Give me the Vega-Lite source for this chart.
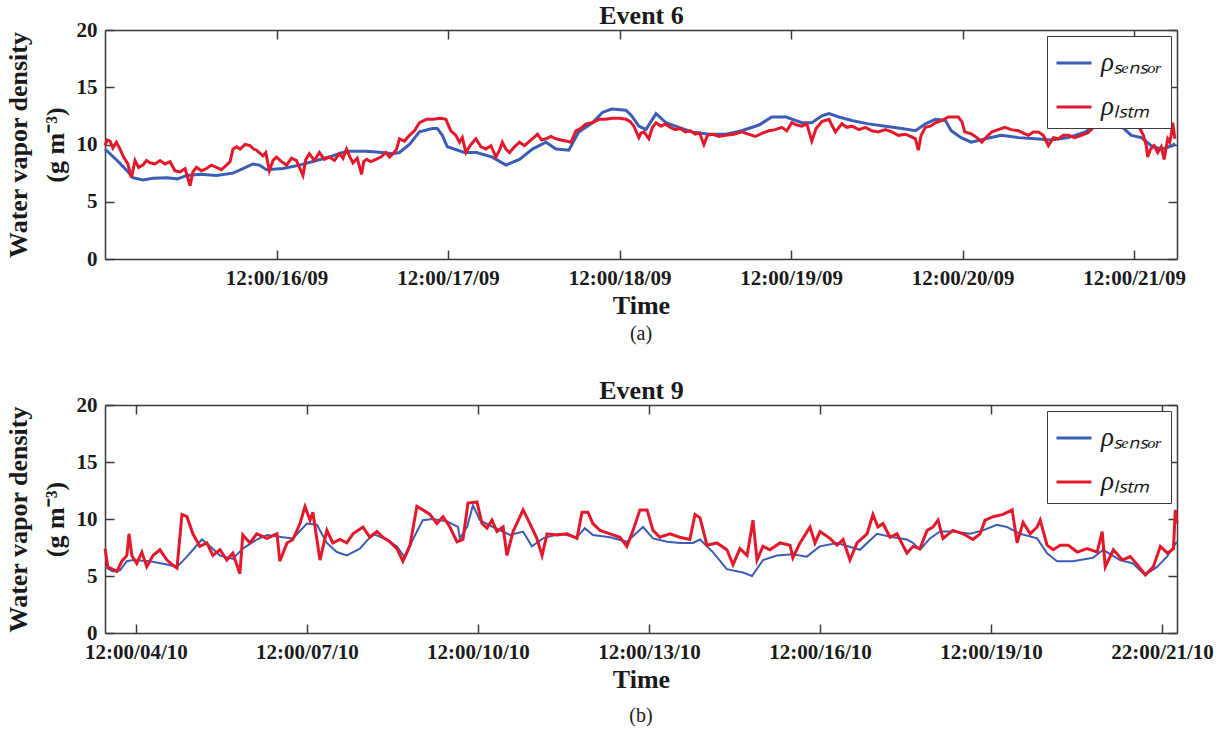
{
"$schema": "https://vega.github.io/schema/vega-lite/v6.json",
"background": "white",
"padding": {"left": 5, "top": 2, "right": 5, "bottom": 5},
"spacing": 33,
"config": {
  "font": "Liberation Serif",
  "view": {"stroke": null},
  "axis": {"grid": false, "labelFont": "Liberation Serif", "labelFontWeight": "bold", "labelFontSize": 21, "labelColor": "#1a1a1a", "titleFont": "Liberation Serif", "titleFontWeight": "bold", "titleFontSize": 26, "titleColor": "#1a1a1a", "domainColor": "#3a3a3a", "domainWidth": 1.5, "tickColor": "#3a3a3a", "tickWidth": 1.5, "tickSize": -9},
  "title": {"font": "Liberation Serif", "fontWeight": "normal", "fontSize": 20, "color": "#1a1a1a", "anchor": "middle"}
},
"datasets": {
  "e6s": [{"h":0,"v":9.6},{"h":1.7,"v":8.6},{"h":3.1,"v":7.7},{"h":3.9,"v":7.1},{"h":5.3,"v":6.9},{"h":6.7,"v":7.05},{"h":8.7,"v":7.1},{"h":10.1,"v":7.0},{"h":11.5,"v":7.3},{"h":13.3,"v":7.4},{"h":15.6,"v":7.3},{"h":17.9,"v":7.5},{"h":19.3,"v":7.9},{"h":20.7,"v":8.3},{"h":21.6,"v":8.2},{"h":22.6,"v":7.8},{"h":24.9,"v":7.9},{"h":27.2,"v":8.2},{"h":29.6,"v":8.6},{"h":31.8,"v":9.0},{"h":33.8,"v":9.4},{"h":36.6,"v":9.4},{"h":38.8,"v":9.3},{"h":40.2,"v":9.2},{"h":41.2,"v":9.3},{"h":42.6,"v":10.0},{"h":44.0,"v":11.1},{"h":45.8,"v":11.4},{"h":46.5,"v":11.4},{"h":47.2,"v":10.8},{"h":47.9,"v":9.8},{"h":50.3,"v":9.3},{"h":52.0,"v":9.3},{"h":54.2,"v":8.9},{"h":56.1,"v":8.2},{"h":58.0,"v":8.7},{"h":59.8,"v":9.6},{"h":61.7,"v":10.2},{"h":63.1,"v":9.6},{"h":64.9,"v":9.5},{"h":66.3,"v":11.1},{"h":68.2,"v":11.9},{"h":69.6,"v":12.8},{"h":70.9,"v":13.1},{"h":72.9,"v":13.0},{"h":73.7,"v":12.5},{"h":74.7,"v":11.6},{"h":75.7,"v":11.3},{"h":77.1,"v":12.7},{"h":78.5,"v":11.9},{"h":80.3,"v":11.5},{"h":82.1,"v":11.1},{"h":84.5,"v":10.9},{"h":86.9,"v":10.9},{"h":89.1,"v":11.2},{"h":91.5,"v":11.7},{"h":93.3,"v":12.4},{"h":95.3,"v":12.4},{"h":97.5,"v":11.9},{"h":98.9,"v":11.9},{"h":100.3,"v":12.5},{"h":101.3,"v":12.7},{"h":102.7,"v":12.4},{"h":104.5,"v":12.1},{"h":106.8,"v":11.8},{"h":109.2,"v":11.6},{"h":111.5,"v":11.4},{"h":113.4,"v":11.2},{"h":114.8,"v":11.8},{"h":116.2,"v":12.2},{"h":117.6,"v":12.1},{"h":118.4,"v":11.2},{"h":119.8,"v":10.6},{"h":121.2,"v":10.2},{"h":123.2,"v":10.5},{"h":125.4,"v":10.8},{"h":127.8,"v":10.6},{"h":130.2,"v":10.5},{"h":132.4,"v":10.4},{"h":134.8,"v":10.6},{"h":137.2,"v":11.1},{"h":139.4,"v":12.1},{"h":140.8,"v":11.9},{"h":142.2,"v":11.6},{"h":143.6,"v":10.8},{"h":145.0,"v":10.6},{"h":146.4,"v":9.9},{"h":147.8,"v":9.6},{"h":149.4,"v":9.9},{"h":149.7,"v":10.1}],
  "e6l": [{"h":0,"v":9.9},{"h":0.3,"v":10.4},{"h":0.7,"v":10.3},{"h":1.1,"v":9.7},{"h":1.6,"v":10.2},{"h":2.1,"v":9.6},{"h":2.6,"v":8.9},{"h":3.2,"v":8.3},{"h":3.7,"v":7.1},{"h":4.2,"v":8.6},{"h":4.7,"v":8.0},{"h":5.3,"v":8.2},{"h":5.8,"v":8.6},{"h":6.3,"v":8.4},{"h":7.0,"v":8.3},{"h":7.7,"v":8.6},{"h":8.4,"v":8.3},{"h":9.1,"v":8.5},{"h":9.8,"v":7.7},{"h":10.5,"v":7.6},{"h":11.2,"v":7.9},{"h":11.9,"v":6.4},{"h":12.3,"v":7.6},{"h":12.8,"v":8.0},{"h":13.5,"v":7.7},{"h":14.2,"v":7.9},{"h":14.9,"v":8.2},{"h":15.6,"v":8.0},{"h":16.3,"v":7.8},{"h":17.0,"v":8.2},{"h":17.5,"v":8.5},{"h":17.9,"v":9.6},{"h":18.4,"v":9.8},{"h":18.9,"v":9.6},{"h":19.6,"v":10.0},{"h":20.3,"v":9.9},{"h":20.8,"v":9.6},{"h":21.2,"v":9.5},{"h":22.1,"v":9.0},{"h":22.5,"v":9.3},{"h":23.0,"v":7.7},{"h":23.5,"v":8.6},{"h":24.0,"v":8.9},{"h":24.7,"v":8.5},{"h":25.4,"v":8.2},{"h":26.1,"v":8.8},{"h":26.8,"v":8.6},{"h":27.7,"v":7.3},{"h":28.1,"v":8.7},{"h":28.6,"v":9.2},{"h":29.3,"v":8.6},{"h":30.0,"v":9.3},{"h":30.7,"v":8.7},{"h":31.4,"v":8.9},{"h":32.1,"v":8.6},{"h":32.8,"v":9.2},{"h":33.3,"v":8.8},{"h":33.8,"v":9.6},{"h":34.2,"v":9.0},{"h":34.7,"v":8.4},{"h":35.3,"v":8.8},{"h":35.9,"v":7.4},{"h":36.2,"v":8.5},{"h":36.6,"v":8.7},{"h":37.2,"v":8.5},{"h":37.9,"v":8.7},{"h":38.6,"v":8.9},{"h":39.3,"v":9.3},{"h":39.8,"v":8.9},{"h":40.3,"v":9.2},{"h":40.8,"v":9.6},{"h":41.2,"v":10.5},{"h":41.9,"v":10.3},{"h":42.6,"v":10.8},{"h":43.3,"v":11.2},{"h":44.0,"v":11.9},{"h":45.0,"v":12.2},{"h":45.9,"v":12.2},{"h":47.0,"v":12.3},{"h":47.7,"v":12.2},{"h":48.1,"v":11.6},{"h":48.4,"v":11.2},{"h":49.1,"v":10.8},{"h":49.6,"v":10.2},{"h":50.0,"v":10.6},{"h":50.5,"v":9.3},{"h":51.2,"v":10.0},{"h":51.9,"v":10.5},{"h":52.6,"v":9.8},{"h":53.3,"v":9.6},{"h":54.0,"v":9.9},{"h":54.7,"v":8.9},{"h":55.2,"v":9.5},{"h":55.6,"v":10.2},{"h":56.1,"v":9.6},{"h":56.6,"v":9.3},{"h":57.3,"v":9.8},{"h":58.0,"v":10.2},{"h":58.7,"v":9.9},{"h":59.4,"v":10.3},{"h":60.0,"v":10.6},{"h":60.5,"v":10.9},{"h":61.1,"v":10.4},{"h":61.7,"v":10.5},{"h":62.4,"v":10.7},{"h":63.1,"v":10.5},{"h":63.8,"v":10.4},{"h":64.5,"v":10.3},{"h":65.2,"v":10.2},{"h":65.9,"v":11.2},{"h":66.6,"v":11.4},{"h":67.3,"v":11.8},{"h":68.2,"v":11.9},{"h":69.1,"v":12.2},{"h":70.0,"v":12.2},{"h":71.0,"v":12.3},{"h":72.0,"v":12.3},{"h":72.9,"v":12.2},{"h":73.5,"v":12.0},{"h":74.0,"v":11.6},{"h":74.7,"v":10.6},{"h":75.0,"v":11.0},{"h":75.4,"v":11.1},{"h":76.1,"v":10.5},{"h":76.6,"v":11.5},{"h":77.1,"v":11.9},{"h":77.8,"v":11.6},{"h":78.4,"v":11.8},{"h":79.1,"v":11.5},{"h":79.8,"v":11.3},{"h":80.5,"v":11.4},{"h":81.2,"v":11.1},{"h":81.9,"v":11.2},{"h":82.6,"v":10.9},{"h":83.2,"v":11.0},{"h":83.8,"v":10.0},{"h":84.3,"v":10.8},{"h":85.0,"v":10.9},{"h":85.9,"v":10.7},{"h":86.8,"v":10.8},{"h":88.0,"v":10.9},{"h":89.1,"v":11.1},{"h":90.0,"v":10.9},{"h":91.0,"v":10.7},{"h":92.0,"v":11.0},{"h":92.9,"v":11.2},{"h":93.8,"v":11.3},{"h":94.7,"v":11.5},{"h":95.4,"v":11.2},{"h":96.1,"v":11.9},{"h":96.8,"v":11.7},{"h":97.5,"v":11.6},{"h":98.2,"v":11.8},{"h":98.9,"v":10.3},{"h":99.5,"v":11.4},{"h":100.3,"v":12.0},{"h":101.3,"v":12.2},{"h":102.2,"v":11.1},{"h":103.1,"v":11.8},{"h":103.8,"v":11.5},{"h":104.5,"v":11.6},{"h":105.5,"v":11.3},{"h":106.4,"v":11.5},{"h":107.3,"v":11.2},{"h":108.2,"v":11.1},{"h":109.2,"v":11.3},{"h":110.1,"v":11.1},{"h":111.0,"v":10.8},{"h":112.0,"v":10.9},{"h":112.7,"v":10.7},{"h":113.4,"v":10.5},{"h":113.8,"v":9.5},{"h":114.2,"v":10.8},{"h":114.8,"v":11.5},{"h":115.5,"v":11.6},{"h":116.2,"v":11.9},{"h":117.1,"v":12.1},{"h":118.0,"v":12.4},{"h":119.4,"v":12.4},{"h":119.9,"v":12.0},{"h":120.3,"v":11.1},{"h":121.3,"v":10.9},{"h":122.0,"v":10.6},{"h":122.7,"v":10.2},{"h":123.4,"v":10.7},{"h":124.1,"v":11.1},{"h":125.0,"v":11.3},{"h":125.9,"v":11.5},{"h":126.8,"v":11.3},{"h":127.8,"v":11.2},{"h":128.5,"v":11.0},{"h":129.2,"v":10.8},{"h":129.9,"v":11.1},{"h":130.6,"v":11.1},{"h":131.3,"v":10.8},{"h":132.0,"v":9.9},{"h":132.7,"v":10.6},{"h":133.4,"v":10.5},{"h":134.1,"v":10.8},{"h":134.8,"v":10.8},{"h":135.7,"v":10.6},{"h":136.6,"v":10.8},{"h":137.5,"v":11.0},{"h":138.5,"v":11.6},{"h":139.4,"v":11.9},{"h":140.4,"v":12.2},{"h":141.3,"v":12.3},{"h":142.2,"v":12.2},{"h":143.6,"v":12.1},{"h":144.3,"v":11.8},{"h":144.8,"v":11.4},{"h":145.3,"v":10.8},{"h":145.7,"v":9.9},{"h":145.9,"v":8.9},{"h":146.3,"v":9.6},{"h":146.8,"v":9.9},{"h":147.3,"v":9.3},{"h":147.8,"v":9.8},{"h":148.2,"v":8.7},{"h":148.7,"v":10.5},{"h":149.0,"v":10.2},{"h":149.2,"v":10.9},{"h":149.4,"v":11.9},{"h":149.7,"v":10.5}],
  "e9s": [{"h":-13,"v":5.8},{"h":-9.7,"v":5.4},{"h":-6.7,"v":5.5},{"h":-3.8,"v":6.3},{"h":-1.3,"v":6.4},{"h":5.9,"v":6.3},{"h":13.1,"v":6.0},{"h":17.3,"v":5.8},{"h":21.5,"v":6.7},{"h":25.7,"v":7.7},{"h":27.8,"v":8.2},{"h":31.2,"v":7.6},{"h":35.4,"v":6.8},{"h":40.8,"v":6.5},{"h":45.0,"v":7.4},{"h":50.9,"v":8.2},{"h":55.2,"v":8.6},{"h":61.9,"v":8.4},{"h":66.1,"v":8.3},{"h":72.0,"v":9.6},{"h":76.2,"v":9.5},{"h":80.4,"v":7.9},{"h":84.6,"v":7.1},{"h":88.8,"v":6.8},{"h":94.3,"v":7.4},{"h":99.8,"v":8.7},{"h":105.7,"v":8.2},{"h":109.9,"v":7.6},{"h":113.3,"v":6.6},{"h":116.6,"v":8.2},{"h":120.8,"v":9.9},{"h":125.0,"v":10.0},{"h":130.9,"v":9.8},{"h":135.6,"v":9.3},{"h":136.4,"v":8.3},{"h":139.4,"v":9.3},{"h":141.9,"v":11.2},{"h":144.8,"v":9.9},{"h":150.3,"v":9.3},{"h":157.5,"v":8.6},{"h":163.0,"v":8.9},{"h":166.7,"v":7.6},{"h":171.4,"v":8.3},{"h":178.5,"v":8.7},{"h":185.7,"v":8.4},{"h":189.0,"v":9.2},{"h":192.4,"v":8.6},{"h":199.6,"v":8.4},{"h":206.7,"v":8.0},{"h":213.5,"v":9.3},{"h":217.7,"v":8.3},{"h":223.6,"v":8.0},{"h":229.0,"v":7.9},{"h":234.5,"v":7.9},{"h":237.5,"v":8.2},{"h":242.9,"v":7.1},{"h":248.8,"v":5.6},{"h":255.6,"v":5.3},{"h":259.4,"v":5.0},{"h":264.0,"v":6.4},{"h":269.9,"v":6.8},{"h":276.6,"v":6.9},{"h":282.5,"v":6.7},{"h":286.7,"v":7.4},{"h":288.0,"v":7.6},{"h":295.2,"v":7.9},{"h":304.8,"v":7.3},{"h":312.0,"v":8.7},{"h":318.7,"v":8.4},{"h":324.6,"v":8.2},{"h":327.2,"v":7.9},{"h":330.1,"v":7.3},{"h":334.3,"v":8.3},{"h":338.5,"v":8.9},{"h":344.0,"v":8.9},{"h":351.2,"v":8.7},{"h":356.6,"v":9.0},{"h":362.5,"v":9.5},{"h":366.7,"v":9.3},{"h":372.2,"v":8.7},{"h":379.4,"v":8.3},{"h":383.6,"v":7.0},{"h":387.8,"v":6.3},{"h":394.5,"v":6.3},{"h":402.9,"v":6.6},{"h":407.2,"v":7.3},{"h":414.3,"v":6.4},{"h":419.8,"v":6.1},{"h":424.8,"v":5.1},{"h":429.9,"v":5.8},{"h":434.1,"v":6.7},{"h":438.3,"v":8.0}],
  "e9l": [{"h":-13,"v":7.4},{"h":-11.8,"v":5.8},{"h":-8.0,"v":5.4},{"h":-5.9,"v":6.3},{"h":-3.8,"v":6.8},{"h":-2.9,"v":8.7},{"h":-1.7,"v":6.8},{"h":0.4,"v":6.1},{"h":2.5,"v":7.1},{"h":4.6,"v":5.8},{"h":7.2,"v":6.8},{"h":10.1,"v":7.3},{"h":13.1,"v":6.4},{"h":15.2,"v":6.0},{"h":17.3,"v":5.7},{"h":19.4,"v":10.4},{"h":21.5,"v":10.2},{"h":24.0,"v":8.7},{"h":26.9,"v":7.6},{"h":29.9,"v":7.9},{"h":32.4,"v":6.8},{"h":35.4,"v":7.3},{"h":38.3,"v":6.4},{"h":40.8,"v":7.0},{"h":43.8,"v":5.2},{"h":45.0,"v":8.6},{"h":48.0,"v":7.9},{"h":50.9,"v":8.7},{"h":55.2,"v":8.3},{"h":59.4,"v":8.7},{"h":60.6,"v":6.3},{"h":63.6,"v":7.9},{"h":66.1,"v":8.2},{"h":69.1,"v":9.6},{"h":71.2,"v":11.1},{"h":73.3,"v":9.9},{"h":74.5,"v":10.6},{"h":77.5,"v":6.4},{"h":80.4,"v":9.0},{"h":82.9,"v":7.9},{"h":85.9,"v":8.2},{"h":88.8,"v":7.9},{"h":91.4,"v":8.7},{"h":95.6,"v":9.3},{"h":98.5,"v":8.4},{"h":101.5,"v":8.9},{"h":104.0,"v":8.4},{"h":106.9,"v":8.0},{"h":109.9,"v":7.4},{"h":112.4,"v":6.3},{"h":115.4,"v":7.7},{"h":118.3,"v":11.1},{"h":120.8,"v":10.8},{"h":123.8,"v":10.4},{"h":126.7,"v":9.6},{"h":129.3,"v":10.2},{"h":132.2,"v":9.3},{"h":135.2,"v":8.0},{"h":137.7,"v":8.2},{"h":139.8,"v":11.4},{"h":143.6,"v":11.5},{"h":145.7,"v":9.6},{"h":147.8,"v":9.2},{"h":149.9,"v":9.9},{"h":152.0,"v":8.9},{"h":154.6,"v":9.3},{"h":156.2,"v":6.8},{"h":158.8,"v":8.9},{"h":163.0,"v":10.8},{"h":165.9,"v":9.6},{"h":168.8,"v":8.3},{"h":171.0,"v":6.8},{"h":173.1,"v":8.7},{"h":177.3,"v":8.6},{"h":181.5,"v":8.7},{"h":185.7,"v":8.3},{"h":187.8,"v":10.6},{"h":190.3,"v":10.6},{"h":192.4,"v":9.6},{"h":195.4,"v":9.0},{"h":199.6,"v":8.7},{"h":203.8,"v":8.4},{"h":206.7,"v":7.6},{"h":209.3,"v":9.0},{"h":212.2,"v":10.8},{"h":215.2,"v":10.8},{"h":217.7,"v":9.0},{"h":220.6,"v":8.4},{"h":224.8,"v":8.7},{"h":229.0,"v":8.4},{"h":233.2,"v":8.2},{"h":235.4,"v":10.4},{"h":237.5,"v":10.1},{"h":240.4,"v":7.7},{"h":244.6,"v":7.9},{"h":248.8,"v":7.3},{"h":251.4,"v":6.0},{"h":254.3,"v":7.4},{"h":257.3,"v":6.8},{"h":259.8,"v":9.9},{"h":261.5,"v":6.4},{"h":264.0,"v":7.6},{"h":266.9,"v":7.3},{"h":271.2,"v":7.9},{"h":275.4,"v":7.7},{"h":276.6,"v":6.6},{"h":279.6,"v":7.9},{"h":283.8,"v":9.3},{"h":285.9,"v":7.9},{"h":288.0,"v":8.9},{"h":292.2,"v":8.3},{"h":295.2,"v":7.7},{"h":297.7,"v":8.2},{"h":300.6,"v":6.4},{"h":303.6,"v":7.9},{"h":307.8,"v":8.7},{"h":310.3,"v":10.4},{"h":312.4,"v":9.3},{"h":314.5,"v":9.6},{"h":317.5,"v":8.4},{"h":320.4,"v":8.7},{"h":324.6,"v":7.0},{"h":327.2,"v":7.6},{"h":330.1,"v":7.4},{"h":333.1,"v":9.0},{"h":335.6,"v":9.3},{"h":337.7,"v":9.9},{"h":339.8,"v":8.3},{"h":344.0,"v":9.0},{"h":348.2,"v":8.7},{"h":352.4,"v":8.2},{"h":355.4,"v":8.7},{"h":357.5,"v":9.9},{"h":360.9,"v":10.2},{"h":365.1,"v":10.4},{"h":368.9,"v":10.8},{"h":371.0,"v":7.9},{"h":373.5,"v":9.7},{"h":376.5,"v":8.7},{"h":379.4,"v":9.3},{"h":380.7,"v":9.9},{"h":383.6,"v":7.7},{"h":386.2,"v":7.3},{"h":389.1,"v":7.7},{"h":392.5,"v":7.7},{"h":396.3,"v":7.1},{"h":400.5,"v":7.4},{"h":404.7,"v":7.1},{"h":406.8,"v":8.9},{"h":408.1,"v":5.8},{"h":411.5,"v":7.3},{"h":415.3,"v":6.4},{"h":418.6,"v":6.7},{"h":421.6,"v":6.0},{"h":425.0,"v":5.1},{"h":428.3,"v":5.8},{"h":431.3,"v":7.6},{"h":434.3,"v":7.0},{"h":436.8,"v":7.4},{"h":437.6,"v":10.8},{"h":438.3,"v":9.6}]
},
"vconcat": [
  {
    "title": {"text": "(a)", "orient": "bottom", "offset": 6},
    "width": 1072, "height": 229,
    "layer": [
      {"data": {"name": "e6s"}, "mark": {"type": "line", "strokeWidth": 3},
       "encoding": {
         "x": {"field": "h", "type": "quantitative", "scale": {"domain": [0, 150], "nice": false, "zero": false},
               "axis": {"values": [24, 48, 72, 96, 120, 144], "labelExpr": "'12:00/' + (15 + datum.value / 24) + '/09'", "labelPadding": 17, "title": "Time", "titlePadding": 4}},
         "y": {"field": "v", "type": "quantitative", "scale": {"domain": [0, 20], "nice": false},
               "axis": {"values": [0, 5, 10, 15, 20], "labelPadding": 17, "title": ["Water vapor density", "(g m⁻³)"], "titleLineHeight": 37, "titlePadding": 8}},
         "color": {"datum": "sensor", "type": "nominal", "scale": {"domain": ["sensor", "lstm"], "range": ["#3C5DB6", "#E3182B"]},
                   "legend": {"orient": "top-right", "offset": 6, "title": null, "symbolType": "stroke", "symbolSize": 1225, "symbolStrokeWidth": 3, "labelFont": "Liberation Serif", "labelFontSize": 27, "labelFontStyle": "italic", "labelColor": "#1a1a1a", "strokeColor": "#3a3a3a", "fillColor": "white", "padding": 8, "rowPadding": 12, "labelOffset": 8, "labelExpr": "datum.value == 'sensor' ? 'ρₛₑₙₛₒᵣ' : 'ρₗₛₜₘ'"}}
       }},
      {"data": {"name": "e6l"}, "mark": {"type": "line", "strokeWidth": 3},
       "encoding": {
         "x": {"field": "h", "type": "quantitative", "axis": {"orient": "top", "values": [24, 48, 72, 96, 120, 144], "labels": false, "title": "Event 6", "titlePadding": 1}},
         "y": {"field": "v", "type": "quantitative", "axis": {"orient": "right", "values": [0, 5, 10, 15, 20], "labels": false, "title": null}},
         "color": {"datum": "lstm", "type": "nominal"}
       }}
    ],
    "resolve": {"axis": {"x": "independent", "y": "independent"}}
  },
  {
    "title": {"text": "(b)", "orient": "bottom", "offset": 14},
    "width": 1072, "height": 228,
    "layer": [
      {"data": {"name": "e9s"}, "mark": {"type": "line", "strokeWidth": 2},
       "encoding": {
         "x": {"field": "h", "type": "quantitative", "scale": {"domain": [-13, 438.3], "nice": false, "zero": false},
               "axis": {"values": [0, 72, 144, 216, 288, 360, 432], "labelExpr": "datum.value >= 432 ? '22:00/21/10' : '12:00/' + (datum.value < 120 ? '0' : '') + (4 + datum.value / 24) + '/10'", "labelPadding": 17, "title": "Time", "titlePadding": 4}},
         "y": {"field": "v", "type": "quantitative", "scale": {"domain": [0, 20], "nice": false},
               "axis": {"values": [0, 5, 10, 15, 20], "labelPadding": 17, "title": ["Water vapor density", "(g m⁻³)"], "titleLineHeight": 37, "titlePadding": 8}},
         "color": {"datum": "sensor", "type": "nominal", "scale": {"domain": ["sensor", "lstm"], "range": ["#3C5DB6", "#E3182B"]},
                   "legend": {"orient": "top-right", "offset": 6, "title": null, "symbolType": "stroke", "symbolSize": 1225, "symbolStrokeWidth": 3, "labelFont": "Liberation Serif", "labelFontSize": 27, "labelFontStyle": "italic", "labelColor": "#1a1a1a", "strokeColor": "#3a3a3a", "fillColor": "white", "padding": 8, "rowPadding": 12, "labelOffset": 8, "labelExpr": "datum.value == 'sensor' ? 'ρₛₑₙₛₒᵣ' : 'ρₗₛₜₘ'"}}
       }},
      {"data": {"name": "e9l"}, "mark": {"type": "line", "strokeWidth": 3},
       "encoding": {
         "x": {"field": "h", "type": "quantitative", "axis": {"orient": "top", "values": [0, 72, 144, 216, 288, 360, 432], "labels": false, "title": "Event 9", "titlePadding": 1}},
         "y": {"field": "v", "type": "quantitative", "axis": {"orient": "right", "values": [0, 5, 10, 15, 20], "labels": false, "title": null}},
         "color": {"datum": "lstm", "type": "nominal"}
       }}
    ],
    "resolve": {"axis": {"x": "independent", "y": "independent"}}
  }
],
"resolve": {"scale": {"color": "independent"}}
}
